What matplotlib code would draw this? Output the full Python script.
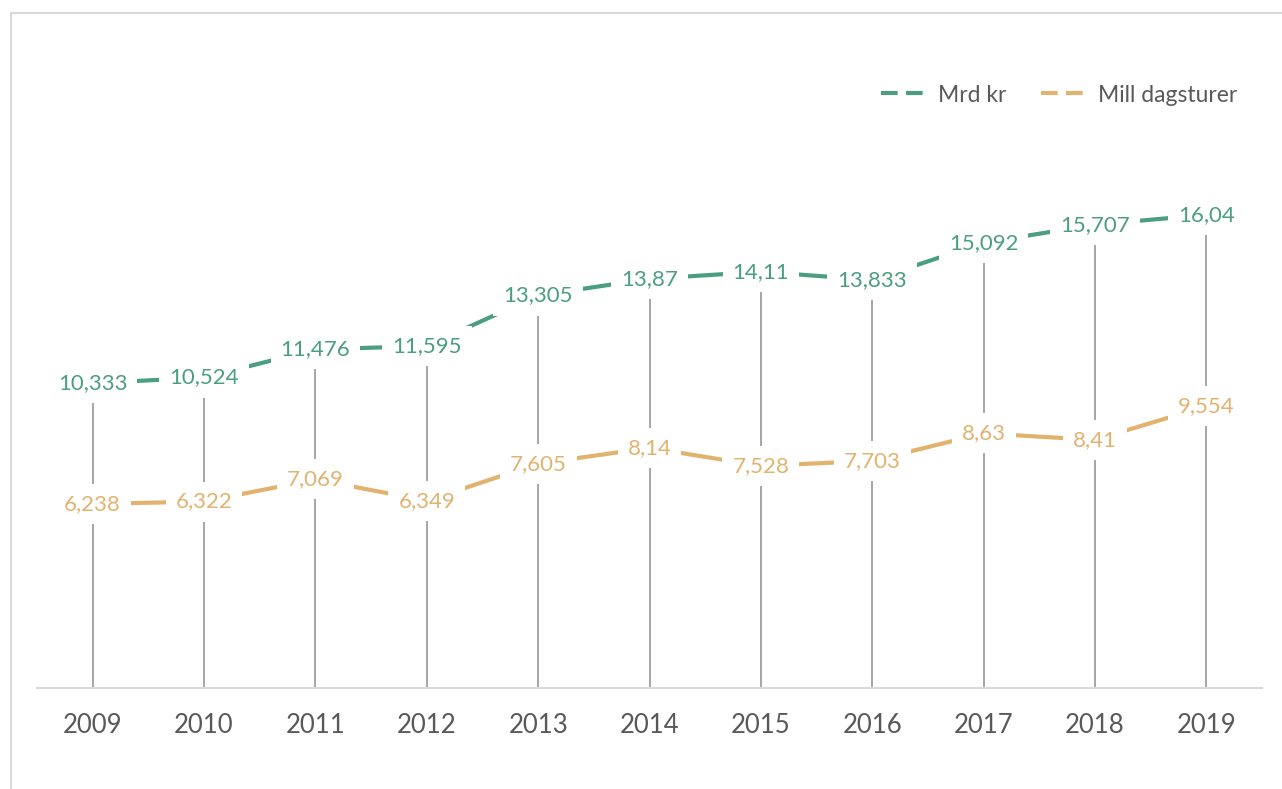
import matplotlib.pyplot as plt
from matplotlib.patches import Rectangle

plt.rcParams['font.family'] = ['Lato', 'DejaVu Sans']

years = ['2009', '2010', '2011', '2012', '2013', '2014', '2015', '2016', '2017', '2018', '2019']
mrd_kr = [10.333, 10.524, 11.476, 11.595, 13.305, 13.87, 14.11, 13.833, 15.092, 15.707, 16.04]
mill_dagsturer = [6.238, 6.322, 7.069, 6.349, 7.605, 8.14, 7.528, 7.703, 8.63, 8.41, 9.554]
labels_mrd = ['10,333', '10,524', '11,476', '11,595', '13,305', '13,87', '14,11', '13,833', '15,092', '15,707', '16,04']
labels_mill = ['6,238', '6,322', '7,069', '6,349', '7,605', '8,14', '7,528', '7,703', '8,63', '8,41', '9,554']

green = '#4b9e7f'
orange = '#e2b26f'
grey_text = '#595959'

fig = plt.figure(figsize=(12.82, 7.89), dpi=100)
# light frame around the chart (right and bottom edges fall outside the picture)
fig.patches.append(Rectangle((11 / 1282, -0.1), 1.2, 1.1 - 13 / 789, transform=fig.transFigure,
                             fill=False, edgecolor='#d9d9d9', linewidth=1.5))
ax = fig.add_axes([37 / 1282, 1 - 688 / 789, (1262 - 37) / 1282, (688 - 157) / 789])

x = list(range(len(years)))
top = [max(a, b) for a, b in zip(mrd_kr, mill_dagsturer)]
ax.vlines(x, 0, top, color='#a6a6a6', linewidth=1.4, zorder=1)

ax.plot(x, mrd_kr, color=green, linewidth=3, zorder=2, solid_capstyle='butt')
ax.plot(x, mill_dagsturer, color=orange, linewidth=3, zorder=2, solid_capstyle='butt')

for i in x:
    ax.text(i, mrd_kr[i], labels_mrd[i], ha='center', va='center', fontsize=16, color=green, zorder=3,
            bbox=dict(boxstyle='square,pad=0.45', facecolor='white', edgecolor='none'))
    ax.text(i, mill_dagsturer[i], labels_mill[i], ha='center', va='center', fontsize=16, color=orange, zorder=3,
            bbox=dict(boxstyle='square,pad=0.45', facecolor='white', edgecolor='none'))

ax.set_xlim(-0.5, len(years) - 0.5)
ax.set_ylim(0, 18)
ax.set_xticks(x)
ax.set_xticklabels(years, fontsize=18.5, color=grey_text)
ax.tick_params(axis='x', length=0, pad=18)
ax.set_yticks([])
for s in ['top', 'right', 'left']:
    ax.spines[s].set_visible(False)
ax.spines['bottom'].set_color('#d9d9d9')
ax.spines['bottom'].set_linewidth(1.5)

h1, = ax.plot([], [], color=green, linewidth=3, linestyle=(0, (4, 2)))
h2, = ax.plot([], [], color=orange, linewidth=3, linestyle=(0, (4, 2)))
fig.legend([h1, h2], ['Mrd kr', 'Mill dagsturer'], loc='center right', bbox_to_anchor=(1258 / 1282, 1 - 95 / 789),
           ncol=2, frameon=False, fontsize=16.5, labelcolor=grey_text, handlelength=2.2, handletextpad=0.3,
           columnspacing=1.5)

fig.savefig('out.png', dpi=100)
